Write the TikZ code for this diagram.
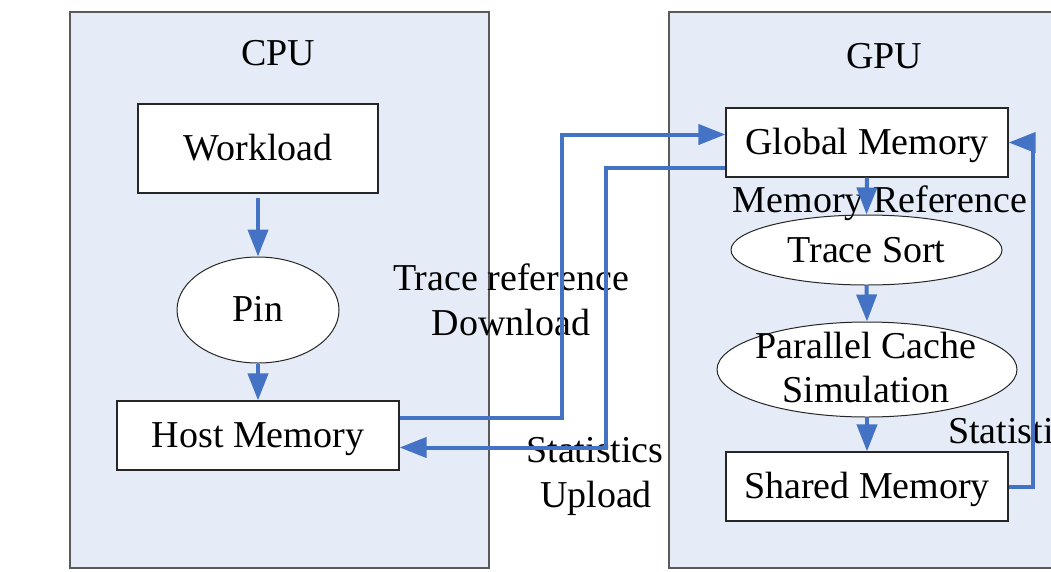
\documentclass[tikz,border=0pt]{standalone}
\usepackage{fontspec}
\setmainfont{Liberation Serif}
\usetikzlibrary{arrows.meta,shapes.geometric}
\definecolor{panel}{HTML}{E6ECF7}
\definecolor{arr}{HTML}{4472C4}
\definecolor{edge}{HTML}{5A5A5A}
\begin{document}
\begin{tikzpicture}[x=1pt,y=-1pt,
  panelbox/.style={draw=edge, fill=panel, line width=1.3pt},
  txt/.style={font=\fontsize{38}{44}\selectfont, text height=24pt, text depth=0pt, inner sep=0pt},
  rectbox/.style={txt, draw=black!85, fill=white, line width=1.2pt, rectangle},
  ellbox/.style={draw=black!85, fill=white, line width=1pt, ellipse, inner sep=0pt},
  lbl/.style={font=\fontsize{38}{44}\selectfont, inner sep=0pt, anchor=base},
  flow/.style={draw=arr, line width=4pt, -{Triangle[length=27pt,width=20pt]}},
]
\useasboundingbox (0,0) rectangle (1051,571);
\clip (0,0) rectangle (1051,571);
\fill[white] (0,0) rectangle (1051,571);

% panels
\path[panelbox] (70,12) rectangle (489,568);
\path[panelbox] (669,12) rectangle (1070,568);
\node[lbl] (cpu) at (278,65) {CPU};
\node[lbl] (gpu) at (884,68) {GPU};

% CPU nodes
\node[rectbox, minimum width=240pt, minimum height=89pt] (wl) at (258,148.5) {Workload};
\node[ellbox, minimum width=162pt, minimum height=106pt] (pin) at (258,310) {};
\node[txt] (pintxt) at (258,309) {Pin};
\node[rectbox, minimum width=282pt, minimum height=69pt] (host) at (258,435.5) {Host Memory};

% GPU nodes
\node[rectbox, minimum width=282pt, minimum height=69pt] (gm) at (867,142.5) {Global Memory};
\node[ellbox, minimum width=271pt, minimum height=70pt] (ts) at (866.5,250) {};
\node[txt] (tstxt) at (866.5,250) {Trace Sort};
\node[ellbox, minimum width=300pt, minimum height=95pt] (pcs) at (867,369.5) {};
\node[lbl] (pcs1) at (866,358) {Parallel Cache};
\node[lbl] (pcs2) at (866,402) {Simulation};
\node[rectbox, minimum width=282pt, minimum height=69pt] (sm) at (867,486.5) {Shared Memory};

% labels
\node[lbl] (memref) at (880,212) {Memory Reference};
\node[lbl] (tr1) at (511,290) {Trace reference};
\node[lbl] (tr2) at (511,335) {Download};
\node[lbl] (st1) at (595,462) {Statistics};
\node[lbl] (st2) at (596,507) {Upload};
\node[lbl, anchor=base west] (st3) at (948,443) {Statistics};

% connectors
\draw[flow] ([yshift=-4pt]wl.south) -- (pin.north);
\draw[flow] (pin.south) -- (host.north);
\draw[flow] ([yshift=18pt]host.east) -- ++(162,0) |- ([yshift=8pt]gm.west);
\draw[flow] ([yshift=-25pt]gm.west) -- ++(-119,0) |- ([yshift=-12pt]host.east);
\draw[flow] (gm.south) -- (ts.north);
\draw[flow] (ts.south) -- (pcs.north);
\draw[flow] (pcs.south) -- (sm.north);
\draw[flow] (sm.east) -- ++(24,0) |- (gm.east);
\end{tikzpicture}
\end{document}
